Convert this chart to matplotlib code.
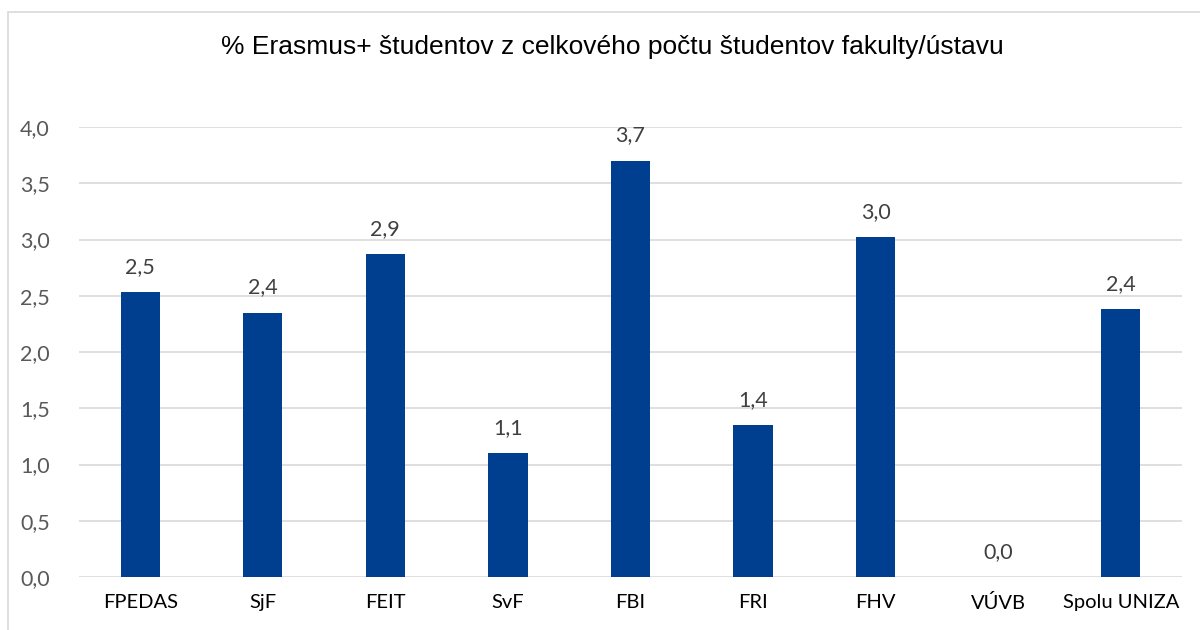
import matplotlib.pyplot as plt
from matplotlib.patches import Rectangle

faculties = ["FPEDAS", "SjF", "FEIT", "SvF", "FBI", "FRI", "FHV", "VÚVB", "Spolu UNIZA"]
erasmus_share = [2.53, 2.35, 2.87, 1.10, 3.70, 1.35, 3.02, 0.0, 2.38]
y_ticks = [0.0, 0.5, 1.0, 1.5, 2.0, 2.5, 3.0, 3.5, 4.0]

bar_color = "#003F8F"
grid_color = "#D9D9D9"

fig = plt.figure(figsize=(12, 6.3), dpi=100)
ax = fig.add_axes([0.0658, 0.0841, 0.985 - 0.0658, 0.7984 - 0.0841])

# chart frame
fig.patches.append(Rectangle((8 / 1200, -0.1), 1.2, 1 - 12 / 630 + 0.1,
                             transform=fig.transFigure, fill=False,
                             edgecolor="#D9D9D9", linewidth=1.2))

x = range(len(faculties))
ax.bar(x, erasmus_share, width=0.32, color=bar_color, zorder=3)

for xi, v in zip(x, erasmus_share):
    ax.annotate(f"{v:.1f}".replace(".", ","), (xi, v), xytext=(0, 11),
                textcoords="offset points", ha="center", va="bottom",
                fontsize=15.5, color="#404040", family="Lato")

ax.set_xlim(-0.5, len(faculties) - 0.5)
ax.set_ylim(0, 4.0)
ax.set_yticks(y_ticks)
ax.set_yticklabels([f"{t:.1f}".replace(".", ",") for t in y_ticks],
                   fontsize=15.5, color="#595959", family="Lato")
ax.set_xticks(list(x))
ax.set_xticklabels(faculties, fontsize=14.5, color="black", family="Lato")
ax.tick_params(axis="both", length=0)
ax.tick_params(axis="y", pad=21)
ax.tick_params(axis="x", pad=12)
ax.yaxis.grid(True, color=grid_color, linewidth=1.2, zorder=0)
for s in ax.spines.values():
    s.set_visible(False)

fig.text(0.51, 1 - 47 / 630, "% Erasmus+ študentov z celkového počtu študentov fakulty/ústavu",
         ha="center", va="center", fontsize=19, family="Liberation Sans", color="black")

fig.savefig("out.png", dpi=100)
